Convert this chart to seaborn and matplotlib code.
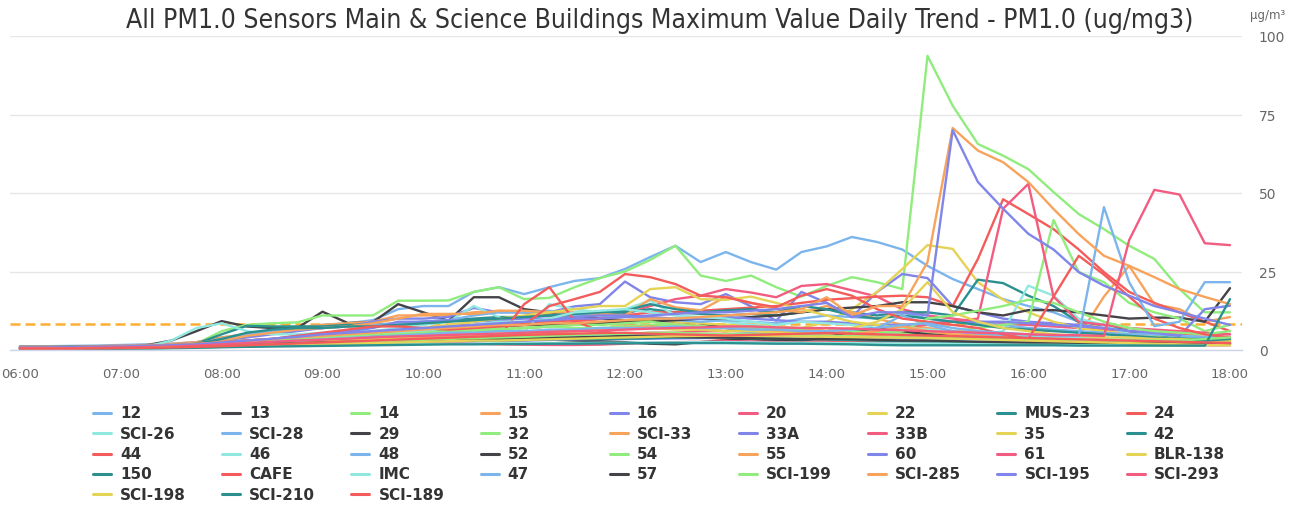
import numpy as np
import pandas as pd
import seaborn as sns
import matplotlib
matplotlib.use("Agg")
import matplotlib.pyplot as plt
from matplotlib.lines import Line2D

# time axis: 06:00 .. 18:00 every 15 minutes
times = ["%02d:%02d" % (h, m) for h in range(6, 18) for m in (0, 15, 30, 45)] + ["18:00"]
hour_ticks = ["06:00", "07:00", "08:00", "09:00", "10:00", "11:00", "12:00",
              "13:00", "14:00", "15:00", "16:00", "17:00", "18:00"]
threshold = 8.3

sensors = ["12", "13", "14", "15", "16", "20", "22", "MUS-23", "24",
           "SCI-26", "SCI-28", "29", "32", "SCI-33", "33A", "33B", "35", "42",
           "44", "46", "48", "52", "54", "55", "60", "61", "BLR-138",
           "150", "CAFE", "IMC", "47", "57", "SCI-199", "SCI-285", "SCI-195", "SCI-293",
           "SCI-198", "SCI-210", "SCI-189"]

s_12 = [1.2, 1.2, 1.3, 1.4, 1.6, 1.8, 2.0, 2.5, 4, 5, 6, 7, 8, 8.5, 9.5, 13,
        14, 14, 18.5, 20, 17.8, 20, 22, 22.9, 25.8, 29.6, 33.2, 28, 31.2, 28, 25.6, 31.2,
        33, 36, 34.4, 32, 26.8, 22.6, 19.4, 16.2, 14, 12, 9, 8, 7, 6, 5, 4, 3]
s_13 = [1, 1, 1, 1.1, 1.2, 1.5, 3, 6, 9.2, 7.5, 7, 7, 12.2, 8.6, 8.9, 14.6,
        12, 9.3, 16.8, 16.8, 13, 12, 11, 10, 9.5, 9.5, 9, 8.5, 7, 6, 5, 5,
        5, 4, 4, 4, 3, 3, 3, 3, 3, 3, 2.5, 2.5, 2, 2, 2, 2, 2]
s_14 = [0.8, 0.8, 0.9, 1, 1.1, 1.3, 1.6, 2, 6, 8, 8.5, 8.8, 11, 11, 11, 15.7,
        15.7, 15.8, 18.5, 20, 16.2, 16.6, 20, 22.9, 25, 28.7, 33.2, 23.7, 22, 23.7, 20, 17,
        20.4, 23.2, 21.6, 19.4, 93.7, 77.8, 65.6, 61.9, 57.6, 50.3, 43.3, 38.5, 33.2, 29, 19.4, 12, 12]
s_15 = [1, 1, 1, 1.2, 1.4, 1.6, 2, 2.5, 4, 5, 6, 7, 8, 8.5, 9, 11,
        11, 11, 12, 12.5, 12, 11, 10, 9, 8, 7.5, 7, 6.5, 6, 6.5, 5.5, 5,
        5, 5, 4.5, 4, 4, 3.5, 3.5, 3, 3, 3, 4.5, 17, 26.8, 14.6, 13, 9, 10.5]
s_16 = [1, 1, 1.1, 1.2, 1.3, 1.5, 1.8, 2.2, 3, 4, 5, 6, 7, 7.5, 9, 10,
        10, 10.5, 13.4, 12, 12, 12, 13.9, 14.6, 21.8, 16.8, 15.2, 14.6, 17.8, 13.9, 9.3, 18.5,
        15, 10.5, 18.5, 24.2, 22.9, 14, 12, 10, 9, 8.5, 8, 7, 6, 5, 4, 4, 3.5]
s_20 = [0.5, 0.5, 0.5, 0.6, 0.8, 1, 1.2, 1.5, 2, 2.5, 3, 3.5, 4, 4.5, 5, 5.5,
        6, 6, 7, 7.5, 7, 7.5, 9, 10, 11.5, 14, 16.2, 17.3, 19.4, 18.3, 16.8, 20.4,
        21, 19, 17, 13, 11, 10, 9, 8.5, 8, 7.5, 7, 6.5, 6, 5.5, 5, 5, 5]
s_22 = [0.8, 0.8, 0.9, 1, 1.1, 1.2, 1.4, 1.8, 2.5, 3, 3.5, 4, 4.5, 5, 5.5, 6,
        6, 6.5, 7, 7.5, 7, 7.5, 8, 8.5, 9, 9.5, 9, 8.5, 8, 8, 7.5, 7,
        8.9, 13, 18.5, 25.8, 33.4, 32.2, 21.6, 16, 12, 9, 7, 6, 5, 4.5, 4, 3.5, 3]
s_mus23 = [1, 1, 1, 1, 1.1, 1.2, 1.4, 2, 5, 7.7, 7.5, 7.5, 7.5, 8, 8, 8.5,
           9, 9.5, 10, 10.5, 10.5, 11, 11, 11.5, 12, 13, 12, 11.5, 11, 11.5, 11, 12,
           13, 12, 11, 12, 12, 11, 22.4, 21.3, 17.3, 14, 8.9, 8, 6, 5, 4, 4, 3.5]
s_24 = [0.6, 0.6, 0.7, 0.8, 1, 1.2, 1.5, 2, 2.5, 3, 3.5, 4, 5, 5.5, 6, 6.5,
        7, 7.5, 8, 8, 8.5, 9, 9.5, 10, 11, 12, 12, 12.5, 13, 13.5, 14, 15,
        16, 16.5, 17, 17.3, 16.8, 14, 29, 48, 43.3, 38.5, 32, 24.8, 18.5, 15, 12, 9, 6]
s_sci26 = [0.5, 0.5, 0.6, 0.7, 0.8, 1, 3, 7, 8.5, 6, 5, 5, 5.5, 6, 6, 7,
           8, 9, 14, 10.5, 5.7, 14.6, 13, 12, 13, 15.7, 11, 10, 9, 8, 7, 7,
           6, 6, 5.5, 5, 5, 4.5, 4.5, 6, 20.5, 17.3, 10, 8, 5, 5, 4.5, 4, 4]
s_sci28 = [1, 1, 1, 1.1, 1.2, 1.4, 1.6, 2, 3.5, 5, 6, 6.5, 7, 7.5, 8, 8.5,
           9, 9.5, 11, 12, 12, 12.5, 11, 11, 10.5, 10, 9.5, 9, 9.5, 9, 8.5, 10,
           11, 10.5, 10, 12, 10, 9, 8.5, 8, 7, 6.5, 6, 5.5, 5, 5, 4.5, 4, 4]
s_29 = [0.8, 0.8, 0.8, 0.9, 1, 1.1, 1.3, 1.6, 2, 2.5, 3, 3.5, 4, 4.5, 5, 5.5,
        6, 6.5, 7, 7.5, 8, 8, 8.5, 8.5, 9, 9, 9.5, 10, 10, 10.5, 11, 12,
        13, 13.5, 14, 15.2, 15.2, 14, 12, 11, 12.7, 12.7, 12, 11, 10, 10.3, 10.3, 9, 19.7]
s_32 = [0.5, 0.5, 0.5, 0.6, 0.7, 0.8, 1, 1.3, 1.8, 2.2, 2.5, 3, 3.5, 4, 4.5, 5,
        5.5, 6, 6.5, 7, 7, 7.5, 8, 8, 8.5, 9, 8, 7.5, 7, 7, 6.5, 6,
        6, 6.5, 6, 5.5, 5.5, 6, 7, 8, 9, 41.4, 24.8, 21.6, 15, 12, 10, 6, 8]
s_sci33 = [1, 1, 1, 1.1, 1.2, 1.4, 1.7, 2.2, 3, 4.5, 5.5, 6.5, 7, 7.5, 8.5, 10,
           11.5, 11.5, 11.5, 12.5, 12.5, 12, 12, 11.5, 11, 16.2, 13.6, 12.6, 17, 15, 13, 12,
           14, 12, 10, 8, 7, 6, 5.5, 5, 4.5, 4, 4, 3.5, 3.5, 3, 3, 3, 3]
s_33a = [0.7, 0.7, 0.8, 0.9, 1, 1.2, 1.4, 1.8, 2.5, 3, 3.5, 4.5, 5, 6, 7, 9,
         9, 9.5, 9, 9.5, 10, 10, 10.5, 11, 11, 10.5, 10, 10, 10.5, 10, 9.5, 9,
         9, 8.5, 8, 8, 8.5, 9, 9, 9, 8.5, 8, 7.5, 7, 6, 5.5, 4.5, 13, 14.1]
s_33b = [0.5, 0.5, 0.5, 0.5, 0.6, 0.7, 0.8, 1, 1.3, 1.6, 2, 2.3, 2.6, 3, 3.2, 3.5,
         3.5, 3.8, 4, 4, 4.2, 4.5, 4.5, 5, 5, 5.5, 5.5, 6, 6, 6.5, 6, 6,
         6, 6.5, 7, 7.5, 8, 9, 10, 45, 52.9, 17, 9, 8, 7, 6.5, 6, 5.5, 5]
s_35 = [0.7, 0.7, 0.8, 0.9, 1, 1.2, 1.4, 1.7, 2.3, 2.8, 3.3, 4, 4.5, 5, 5.5, 6,
        7, 8, 9, 10, 11, 12, 13, 14, 14, 19.4, 20, 16.2, 16, 17, 15, 13,
        11, 9, 8, 7, 6, 5, 4.5, 4, 4, 3.5, 3.5, 3, 3, 3, 2.5, 2.5, 2.5]
s_42 = [0.9, 0.9, 1, 1, 1.1, 1.3, 1.5, 2, 3.5, 5.5, 6.5, 7, 7, 7.5, 7.5, 8,
        8.5, 9, 9.5, 10, 10.5, 11, 11.5, 12, 12.5, 14.6, 13, 12, 12.6, 13, 12, 14,
        13, 11, 10, 11, 10, 9, 8, 7, 6.5, 6, 5.5, 5, 4.5, 4, 3.5, 3.5, 3]
s_44 = [0.6, 0.6, 0.7, 0.8, 0.9, 1, 1.2, 1.5, 2, 2.5, 3, 3.5, 4, 4, 4.5, 4.5,
        5, 5, 5, 4, 14.6, 20, 9.3, 6, 5, 4.5, 4, 4, 3.5, 3.5, 3, 3,
        3, 2.5, 2.5, 2.5, 2.5, 2.5, 2.5, 2, 2, 2, 2, 2, 2, 2, 1.8, 1.8, 1.8]
s_46 = [0.5, 0.5, 0.5, 0.6, 0.7, 0.8, 1, 1.3, 2, 2.5, 3, 3.5, 4, 4.5, 5, 5.5,
        6, 7, 8, 9, 9, 10, 12, 12.5, 13, 12, 11, 10.5, 10, 9, 8, 9,
        8.5, 8, 7, 7, 6.5, 6, 5, 5, 4.5, 4, 4, 4, 3.5, 3.5, 3, 3, 3]
s_48 = [0.5, 0.5, 0.5, 0.5, 0.6, 0.7, 0.8, 1, 1.3, 1.6, 1.9, 2.2, 2.5, 2.8, 3, 3.2,
        3.5, 3.5, 4, 4, 4, 4.2, 4.5, 4.5, 5, 5, 5, 5, 5, 5.5, 5, 5,
        5.5, 6, 7, 11, 8, 6, 5, 4.5, 4, 3.5, 3, 3, 3, 2.8, 2.6, 2.5, 2.5]
s_52 = [0.3, 0.3, 0.3, 0.4, 0.5, 0.6, 0.7, 0.9, 1.2, 1.4, 1.6, 1.8, 2, 2.2, 2.4, 2.5,
        2.6, 2.8, 3, 3, 3.2, 3.3, 3, 2.8, 2.5, 2, 1.8, 2.5, 3, 3.5, 3, 3,
        4, 6, 7, 6, 5, 4.5, 4, 3.5, 3, 3, 2.8, 2.6, 2.5, 2.4, 2.3, 2.2, 2.2]
s_54 = [0.6, 0.6, 0.7, 0.8, 0.9, 1, 1.2, 1.5, 2, 2.5, 3, 3.5, 4, 4.5, 5, 5,
        5.5, 6, 6, 6.5, 7, 7.5, 7, 7, 7.5, 8, 8, 7.5, 7, 7.5, 7, 6.5,
        6, 6, 5.5, 6, 10, 11, 12.5, 14, 16, 15, 12, 9, 7, 6, 5.5, 5, 6]
s_55 = [0.4, 0.4, 0.4, 0.5, 0.6, 0.7, 0.9, 1.1, 1.5, 1.8, 2.1, 2.5, 2.8, 3, 3.3, 3.6,
        4, 4.3, 4.6, 5, 5, 5.5, 6, 6.5, 7, 7.5, 7, 6.5, 6, 6.5, 6, 6,
        7, 5, 6, 7.5, 6, 5, 4.5, 4, 3.5, 3.5, 3, 3, 3, 2.8, 2.6, 2.5, 2.5]
s_60 = [0.3, 0.3, 0.3, 0.4, 0.5, 0.6, 0.7, 0.8, 1, 1.2, 1.4, 1.6, 1.8, 2, 2.2, 2.4,
        2.5, 2.7, 2.8, 3, 3, 3.2, 3.4, 3.5, 3.5, 3.6, 3.7, 3.8, 4, 4, 3.8, 3.6,
        3.5, 3.4, 3.3, 3.2, 3, 3, 2.9, 2.8, 2.8, 2.7, 2.7, 2.6, 2.5, 2.5, 2.4, 2.4, 2.3]
s_61 = [0.3, 0.3, 0.4, 0.4, 0.5, 0.6, 0.7, 0.9, 1.1, 1.3, 1.5, 1.7, 1.9, 2.1, 2.2, 2.4,
        2.5, 2.3, 2, 1.8, 1.7, 1.6, 1.6, 1.7, 2, 2.3, 2.5, 2.6, 2.8, 2.7, 2.5, 2.4,
        2.3, 2.2, 2.2, 2.1, 2, 2, 1.9, 1.9, 1.8, 1.8, 1.7, 1.7, 1.6, 1.6, 1.5, 1.5, 1.5]
s_blr138 = [0.4, 0.4, 0.5, 0.5, 0.6, 0.7, 0.8, 1, 1.3, 1.6, 2, 2.4, 2.8, 3.2, 3.6, 4,
            4.5, 5, 5, 5.5, 5.5, 6, 6, 6.5, 7, 7, 6.5, 6.5, 6, 6, 5.5, 5.5,
            6, 7, 9, 13, 21.6, 12, 9, 7, 6, 5, 4.5, 4, 4, 3.5, 3.5, 3, 3]
s_150 = [0.4, 0.4, 0.4, 0.5, 0.6, 0.7, 0.8, 1, 1.2, 1.4, 1.6, 1.8, 2, 2.2, 2.4, 2.6,
         2.8, 3, 3, 3.2, 3.2, 3.4, 3.5, 3.5, 3.6, 3.8, 4, 4, 4, 3.8, 3.6, 3.5,
         3.4, 3.2, 3, 2.8, 2.7, 2.6, 2.5, 2.5, 2.5, 2.4, 2.4, 2.3, 2.3, 2.5, 2.8, 3, 3.5]
s_cafe = [0.8, 0.8, 0.9, 1, 1.1, 1.3, 1.5, 1.9, 2.5, 3, 3.5, 4.5, 5.5, 6.5, 7.5, 7.5,
          7, 6.5, 7, 7.5, 8, 14, 16.2, 18.5, 24.2, 23.2, 21, 17.3, 16.8, 15, 13.6, 17.3,
          19.4, 17.3, 13, 10, 9, 8, 7, 5, 3.5, 17, 30, 24, 17, 10, 7, 5, 4]
s_imc = [0.3, 0.3, 0.3, 0.3, 0.4, 0.5, 0.6, 0.7, 0.9, 1.1, 1.3, 1.4, 1.5, 1.6, 1.7, 1.8,
         1.9, 2, 2, 2.1, 2.1, 2.2, 2.2, 2.3, 2.3, 2.4, 2.4, 2.5, 2.5, 2.4, 2.3, 2.3,
         2.2, 2.2, 2.1, 2.1, 2, 2, 2, 1.9, 1.9, 1.8, 1.8, 1.8, 1.7, 1.7, 1.7, 1.6, 1.6]
s_47 = [0.6, 0.6, 0.7, 0.8, 0.9, 1, 1.2, 1.4, 1.8, 2.2, 2.6, 3, 3.4, 3.8, 4.2, 4.6,
        5, 5.5, 5.5, 6, 6, 6.5, 6.5, 7, 7, 7, 7.5, 7, 7, 6.5, 6.5, 6,
        6, 6.5, 7, 8, 8.5, 7, 6, 5.5, 5, 4.5, 4.5, 45.5, 21.6, 7.6, 9, 21.6, 21.6]
s_57 = [0.5, 0.5, 0.5, 0.6, 0.7, 0.8, 0.9, 1.1, 1.4, 1.7, 2, 2.2, 2.4, 2.6, 2.8, 3,
        3.2, 3.4, 3.5, 3.6, 3.8, 4, 4, 4.2, 4.5, 4.5, 4.2, 4, 4, 3.8, 3.6, 3.5,
        3.5, 3.5, 3.2, 3, 3, 2.8, 2.6, 2.5, 2.4, 2.4, 2.3, 2.3, 2.2, 2.2, 2.1, 2.1, 2]
s_sci199 = [0.4, 0.4, 0.4, 0.5, 0.6, 0.7, 0.8, 1, 1.2, 1.5, 1.8, 2, 2.2, 2.5, 2.8, 3,
            3.2, 3.5, 3.8, 4, 4.2, 4.5, 4.8, 5, 5.2, 5.5, 5.5, 5.2, 5, 5, 4.8, 4.6,
            4.5, 4.4, 4.2, 4, 4, 3.8, 3.6, 3.5, 3.4, 3.3, 3.2, 3.1, 3, 3, 3, 3.5, 4]
s_sci285 = [0.8, 0.8, 0.9, 1, 1.1, 1.3, 1.5, 1.9, 2.5, 3, 3.5, 4, 4.5, 5, 5.5, 6,
            6.5, 7, 7.5, 8, 8, 8.5, 8.5, 9, 9.5, 10, 10, 10.5, 11, 11.5, 12, 13,
            16.8, 11, 14, 14, 28, 70.7, 63.5, 59.8, 53.5, 44.9, 36.9, 30, 26.8, 23.2, 19.4, 16.9, 14.6]
s_sci195 = [0.8, 0.8, 0.9, 1, 1.1, 1.3, 1.5, 1.8, 2.4, 3, 3.6, 4.2, 5, 5.5, 6, 6.5,
            7, 7.5, 8, 8.5, 9, 9.5, 10, 10, 10.5, 11, 11.5, 12, 12, 12.5, 13, 14,
            15, 10.5, 12, 12, 11, 70, 53.5, 45, 37, 32, 24.8, 20.5, 17.3, 14, 12, 10, 8]
s_sci293 = [0.6, 0.6, 0.6, 0.7, 0.8, 0.9, 1.1, 1.4, 1.8, 2.2, 2.6, 3, 3.3, 3.6, 4, 4.3,
            4.5, 4.8, 5, 5.2, 5.5, 5.8, 6, 6.2, 6.5, 6.8, 7, 7.2, 7.5, 7.5, 7.2, 7,
            7, 6.8, 6.5, 6.3, 6, 5.8, 5.5, 5.3, 5, 4.8, 4.7, 4.5, 35, 51, 49.5, 34, 33.4]
s_sci198 = [0.3, 0.3, 0.3, 0.4, 0.5, 0.6, 0.7, 0.8, 1, 1.2, 1.4, 1.6, 1.8, 2, 2.2, 2.4,
            2.6, 2.8, 3, 3, 3.2, 3.4, 3.6, 3.8, 4, 4.2, 4.4, 4.5, 4.6, 4.5, 4.4, 4.3,
            4.2, 4.1, 4, 3.9, 3.8, 3.6, 3.4, 3.2, 3, 2.8, 2.6, 2.4, 2.2, 2, 1.8, 1.6, 1.5]
s_sci210 = [0.2, 0.2, 0.2, 0.3, 0.4, 0.5, 0.6, 0.7, 0.9, 1, 1.1, 1.2, 1.3, 1.4, 1.5, 1.6,
            1.7, 1.8, 1.8, 1.9, 1.9, 2, 2, 2.1, 2.1, 2.2, 2.2, 2.2, 2.2, 2.1, 2, 2,
            1.9, 1.8, 1.6, 1.5, 1.5, 1.5, 1.5, 1.5, 1.5, 1.5, 1.4, 1.4, 1.4, 1.4, 1.4, 1.4, 16.2]
s_sci189 = [0.4, 0.4, 0.4, 0.5, 0.6, 0.7, 0.8, 1, 1.2, 1.5, 1.8, 2.1, 2.4, 2.7, 3, 3.3,
            3.6, 3.9, 4.2, 4.5, 4.8, 5, 5.2, 5.4, 5.5, 5.2, 5, 4.8, 4.6, 4.8, 5, 5.2,
            5.4, 5.2, 5, 4.8, 4.6, 4.4, 4.2, 4, 3.8, 3.6, 3.4, 3.2, 3, 2.8, 2.6, 2.4, 2.2]

values = [s_12, s_13, s_14, s_15, s_16, s_20, s_22, s_mus23, s_24,
          s_sci26, s_sci28, s_29, s_32, s_sci33, s_33a, s_33b, s_35, s_42,
          s_44, s_46, s_48, s_52, s_54, s_55, s_60, s_61, s_blr138,
          s_150, s_cafe, s_imc, s_47, s_57, s_sci199, s_sci285, s_sci195, s_sci293,
          s_sci198, s_sci210, s_sci189]

hc = ['#7cb5ec', '#434348', '#90ed7d', '#f7a35c', '#8085e9',
      '#f15c80', '#e4d354', '#2b908f', '#f45b5b', '#91e8e1']
colors = [hc[i % 10] for i in range(len(sensors))]

def to_hours(t):
    h, m = t.split(":")
    return int(h) + int(m) / 60.0

rows = []
for name, vals in zip(sensors, values):
    for t, v in zip(times, vals):
        rows.append({"time": to_hours(t), "sensor": name, "value": v})
df = pd.DataFrame(rows)

sns.set_style("white")
plt.rcParams['font.family'] = ['DejaVu Sans']

W, H = 1309, 506
fig = plt.figure(figsize=(W / 100, H / 100), dpi=100)
ax = fig.add_axes([10 / W, 1 - 351 / H, (1242 - 10) / W, (351 - 37) / H])

sns.lineplot(data=df, x="time", y="value", hue="sensor", hue_order=sensors,
             palette=colors, linewidth=1.7, legend=False, ax=ax, sort=False)

ax.axhline(threshold, color='#ffad33', linestyle=(0, (4, 2)), linewidth=1.8, zorder=1)

ax.set_xlim(6 - 10 / 100.8, 18 + 12 / 100.8)
ax.set_ylim(0, 100)
ax.set_xlabel("")
ax.set_ylabel("")
for s in ["top", "left", "right"]:
    ax.spines[s].set_visible(False)
ax.spines["bottom"].set_color('#ccd6eb')
ax.spines["bottom"].set_linewidth(1)

ax.set_xticks([to_hours(t) for t in hour_ticks])
ax.set_xticklabels(hour_ticks)
ax.tick_params(axis='x', direction='out', length=9, color='#ccd6eb', width=1,
               labelsize=9.5, labelcolor='#666666', pad=3)

ax.yaxis.tick_right()
ax.set_yticks([0, 25, 50, 75, 100])
ax.tick_params(axis='y', length=0, labelsize=10, labelcolor='#666666', pad=12)
for lab in ax.get_yticklabels():
    lab.set_horizontalalignment('left')
ax.grid(axis='y', color='#e6e6e6', linewidth=1)
ax.grid(axis='x', visible=False)

fig.text(1268 / W, 1 - 16 / H, "µg/m³", ha='center', va='center', fontsize=8.5, color='#666666')
fig.text(660 / W, 1 - 21 / H,
         "All PM1.0 Sensors Main & Science Buildings Maximum Value Daily Trend - PM1.0 (ug/mg3)",
         ha='center', va='center', fontsize=19, color='#333333', fontstretch='condensed')

# legend laid out like the original: 9 fixed-width columns
for k, (name, col) in enumerate(zip(sensors, colors)):
    c, r = k % 9, k // 9
    x0 = (93 + 129.2 * c) / W
    y0 = 1 - (414 + 20.3 * r) / H
    fig.add_artist(Line2D([x0, x0 + 18 / W], [y0, y0], color=col, linewidth=2.2,
                          transform=fig.transFigure))
    fig.text(x0 + 27 / W, y0, name, ha='left', va='center', fontsize=11,
             fontweight='bold', color='#333333')

fig.savefig("out.png", dpi=100)
